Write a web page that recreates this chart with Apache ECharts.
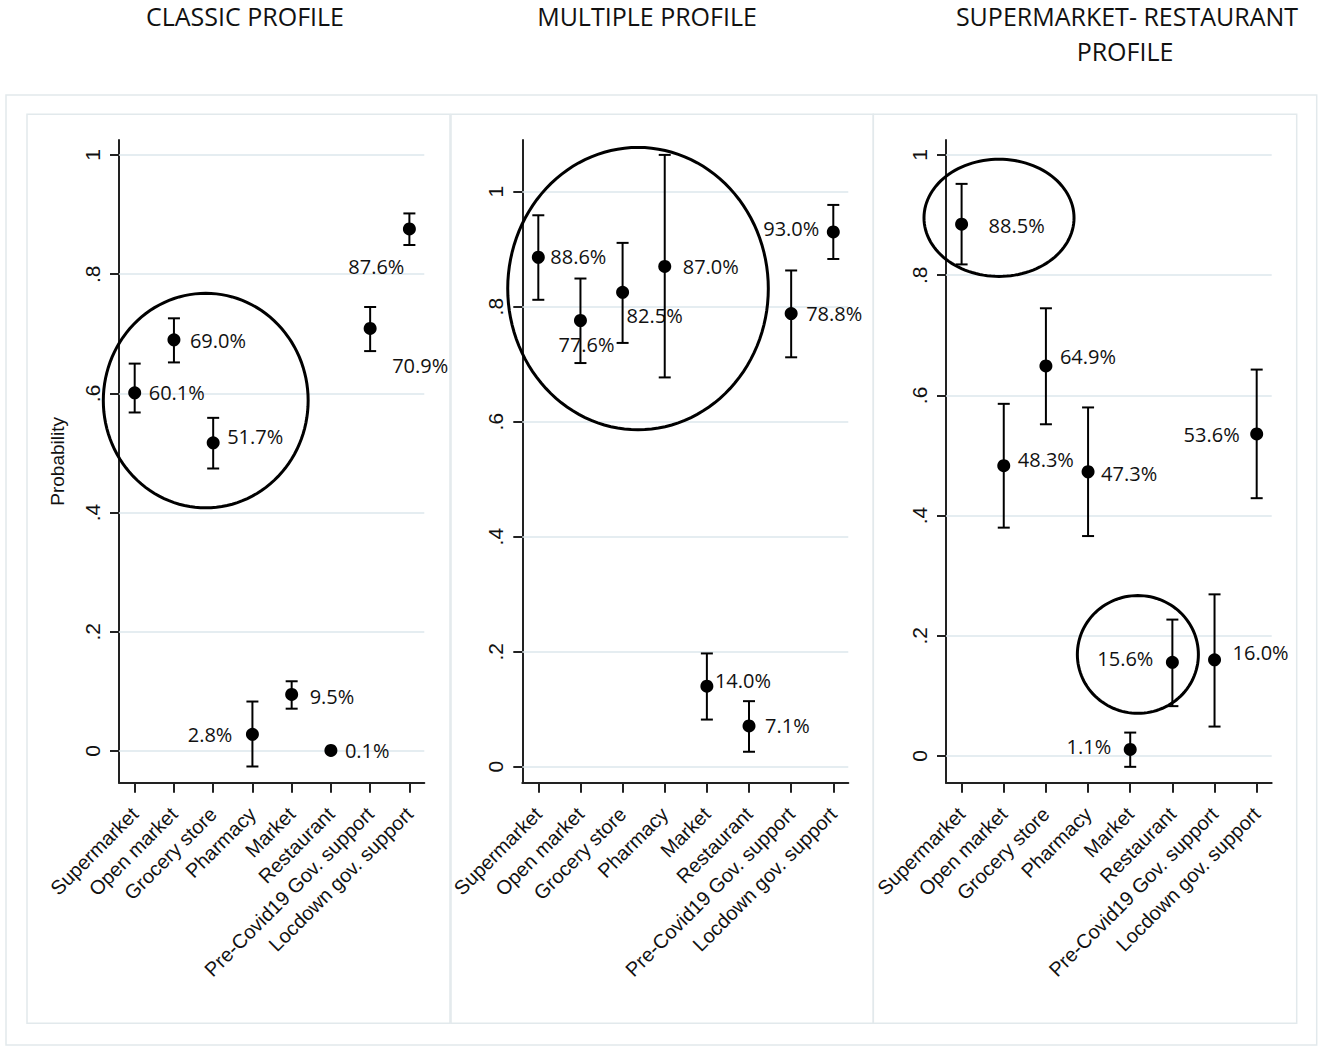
<!DOCTYPE html>
<html><head><meta charset="utf-8">
<script src="https://cdn.jsdelivr.net/npm/echarts@6/dist/echarts.min.js"></script>
<style>html,body{margin:0;padding:0;background:#fff}#c{width:1325px;height:1059px}</style>
</head><body><div id="c"></div>
<script>
// ---------- DATA ----------
const categories = ['Supermarket','Open market','Grocery store','Pharmacy','Market','Restaurant','Pre-Covid19 Gov. support','Locdown gov. support'];
const categoryPositions = [1,2,3,4,5,6,7,8];
const yTickValues = [0,0.2,0.4,0.6,0.8,1];
const yTickLabels = ['0','.2','.4','.6','.8','1'];
const panelTitles = [['CLASSIC PROFILE'],['MULTIPLE PROFILE'],['SUPERMARKET- RESTAURANT','PROFILE']];
const yAxisName = 'Probability';

const classicProb = [0.601,0.690,0.517,0.028,0.095,0.001,0.709,0.876];
const classicLow  = [0.568,0.652,0.474,-0.026,0.071,null,0.671,0.849];
const classicHigh = [0.650,0.726,0.559,0.083,0.117,null,0.745,0.902];

const multipleProb = [0.886,0.776,0.825,0.870,0.140,0.071,0.788,0.930];
const multipleLow  = [0.812,0.702,0.737,0.677,0.082,0.026,0.712,0.883];
const multipleHigh = [0.959,0.849,0.911,1.064,0.197,0.114,0.863,0.977];

const smrProb = [0.885,0.483,0.649,0.473,0.011,0.156,0.160,0.536];
const smrLow  = [0.818,0.380,0.552,0.366,-0.018,0.083,0.049,0.429];
const smrHigh = [0.952,0.586,0.745,0.580,0.039,0.227,0.269,0.643];

// highlight ellipses, given as bounding boxes in data units [xMin, xMax, yMin, yMax]
const classicEllipses = [[0.2,5.42,0.408,0.768]];
const multipleEllipses = [[0.274,6.458,0.586,1.077]];
const smrEllipses = [[0.108,3.667,0.798,0.993],[3.746,6.617,0.071,0.267]];

// ---------- STYLE / LAYOUT ----------
const labelPlace = [
  [[14,0,'left'],[16,1,'left'],[14,-6,'left'],[-20,0,'right'],[18,2,'left'],[14,0,'left'],[22,37,'left'],[-5,38,'right']],
  [[12,-1,'left'],[-22,24,'left'],[4,23,'left'],[18,0,'left'],[8,-6,'left'],[16,0,'left'],[15,0,'left'],[-14,-3,'right']],
  [[27,1,'left'],[14,-6,'left'],[14,-9,'left'],[13,2,'left'],[-19,-3,'right'],[-19,-4,'right'],[18,-7,'left'],[-17,1,'right']]
];
const panels = [
  {prob:classicProb, low:classicLow, high:classicHigh, ell:classicEllipses, grid:{left:119,top:140,width:305.3,height:642.7}, x:[0.6,8.38], y:[-0.0532,1.0252]},
  {prob:multipleProb, low:multipleLow, high:multipleHigh, ell:multipleEllipses, grid:{left:522.3,top:140,width:326,height:642.7}, x:[0.62,8.356], y:[-0.0278,1.0899]},
  {prob:smrProb, low:smrLow, high:smrHigh, ell:smrEllipses, grid:{left:946,top:140,width:325.7,height:642.7}, x:[0.63,8.356], y:[-0.0444,1.025]}
];
const titlePos = [[[245,16]],[[647,16]],[[1127,16],[1125,51]]];
const INK = '#111';
const SANS = '"Liberation Sans", Arial, sans-serif';
const LABF = '"Open Sans", sans-serif';

const chart = echarts.init(document.getElementById('c'), null, {renderer:'svg'});

const grids = [], xAxes = [], yAxes = [], series = [];
panels.forEach((p, i) => {
  grids.push(Object.assign({containLabel:false}, p.grid));
  xAxes.push({
    type:'value', gridIndex:i, min:p.x[0], max:p.x[1],
    axisLine:{show:true, onZero:false, lineStyle:{color:'#222', width:2}},
    axisTick:{show:true, length:10, customValues:categoryPositions, lineStyle:{color:'#222', width:2}},
    axisLabel:{show:true, rotate:45, margin:28, customValues:categoryPositions, fontFamily:SANS, fontSize:20, color:INK,
      formatter: v => categories[Math.round(v)-1] || ''},
    splitLine:{show:false}
  });
  yAxes.push({
    type:'value', gridIndex:i, min:p.y[0], max:p.y[1],
    name: i === 0 ? yAxisName : '', nameLocation:'middle', nameRotate:90, nameGap:52,
    nameTextStyle:{fontFamily:SANS, fontSize:19, color:INK},
    axisLine:{show:true, onZero:false, lineStyle:{color:'#222', width:2}},
    axisTick:{show:true, length:9, customValues:yTickValues, lineStyle:{color:'#222', width:2}},
    axisLabel:{show:true, rotate:90, margin:16, customValues:yTickValues, fontFamily:SANS, fontSize:21, color:INK,
      formatter: v => { const k = yTickValues.findIndex(t => Math.abs(t - v) < 1e-6); return k >= 0 ? yTickLabels[k] : ''; }},
    splitLine:{show:false}
  });
  // light horizontal gridlines (drawn underneath everything)
  series.push({
    type:'scatter', xAxisIndex:i, yAxisIndex:i, z:1, data:[], silent:true,
    markLine:{z:1, silent:true, symbol:'none', animation:false, label:{show:false},
      lineStyle:{color:'#dde7ec', width:1.6, type:'solid'},
      data: yTickValues.map(v => ({yAxis:v}))}
  });
  // error bars + value labels
  series.push({
    type:'custom', xAxisIndex:i, yAxisIndex:i, z:6, clip:false,
    data: p.prob.map((v, k) => [categoryPositions[k], v]),
    renderItem: (params, api) => {
      const k = params.dataIndex;
      const x = api.value(0), v = api.value(1);
      const children = [];
      const lo = p.low[k], hi = p.high[k];
      if (lo != null && hi != null) {
        const a = api.coord([x, hi]), b = api.coord([x, lo]);
        const cap = 6, st = {stroke:'#000', lineWidth:2};
        children.push({type:'line', shape:{x1:a[0],y1:a[1],x2:b[0],y2:b[1]}, style:st});
        children.push({type:'line', shape:{x1:a[0]-cap,y1:a[1],x2:a[0]+cap,y2:a[1]}, style:st});
        children.push({type:'line', shape:{x1:b[0]-cap,y1:b[1],x2:b[0]+cap,y2:b[1]}, style:st});
      }
      const c = api.coord([x, v]);
      const lp = labelPlace[i][k];
      children.push({type:'text', x:c[0]+lp[0], y:c[1]+lp[1],
        style:{text:(v*100).toFixed(1)+'%', fill:INK, font:'20px ' + LABF,
          align:lp[2], verticalAlign:'middle', textAlign:lp[2], textVerticalAlign:'middle'}});
      return {type:'group', children};
    }
  });
  // point estimates
  series.push({
    type:'scatter', xAxisIndex:i, yAxisIndex:i, z:7,
    symbol:'circle', symbolSize:13, itemStyle:{color:'#000', opacity:1},
    data: p.prob.map((v, k) => [categoryPositions[k], v])
  });
});

chart.setOption({
  animation:false,
  backgroundColor:'#fff',
  grid:grids, xAxis:xAxes, yAxis:yAxes, series
});

// ---------- annotations: frames, titles, ellipses ----------
const graphics = [];
const frameStyle = {fill:'none', stroke:'#e2e9ec', lineWidth:1.5};
graphics.push({type:'rect', silent:true, z:0, shape:{x:6,y:95,width:1310.7,height:950}, style:frameStyle});
graphics.push({type:'rect', silent:true, z:0, shape:{x:27,y:114.3,width:423,height:909}, style:frameStyle});
graphics.push({type:'rect', silent:true, z:0, shape:{x:451,y:114.3,width:422.3,height:909}, style:frameStyle});
graphics.push({type:'rect', silent:true, z:0, shape:{x:873.3,y:114.3,width:423.4,height:909}, style:frameStyle});

panelTitles.forEach((lines, i) => {
  lines.forEach((t, j) => {
    graphics.push({type:'text', silent:true, x:titlePos[i][j][0], y:titlePos[i][j][1],
      style:{text:t, fill:INK, font:'25px ' + LABF, align:'center', verticalAlign:'middle', textAlign:'center', textVerticalAlign:'middle'}});
  });
});

panels.forEach((p, i) => {
  p.ell.forEach(e => {
    const tl = chart.convertToPixel({gridIndex:i}, [e[0], e[3]]);
    const br = chart.convertToPixel({gridIndex:i}, [e[1], e[2]]);
    const cx = (tl[0]+br[0])/2, cy = (tl[1]+br[1])/2;
    const rx = Math.abs(br[0]-tl[0])/2, ry = Math.abs(br[1]-tl[1])/2;
    const pts = [];
    for (let s = 0; s < 120; s++) {
      const t = s / 120 * Math.PI * 2;
      pts.push([cx + rx*Math.cos(t), cy + ry*Math.sin(t)]);
    }
    graphics.push({type:'polygon', silent:true, z:10, shape:{points:pts}, style:{fill:'none', stroke:'#000', lineWidth:3}});
  });
});

chart.setOption({graphic:{elements:graphics}});
</script>
</body></html>
